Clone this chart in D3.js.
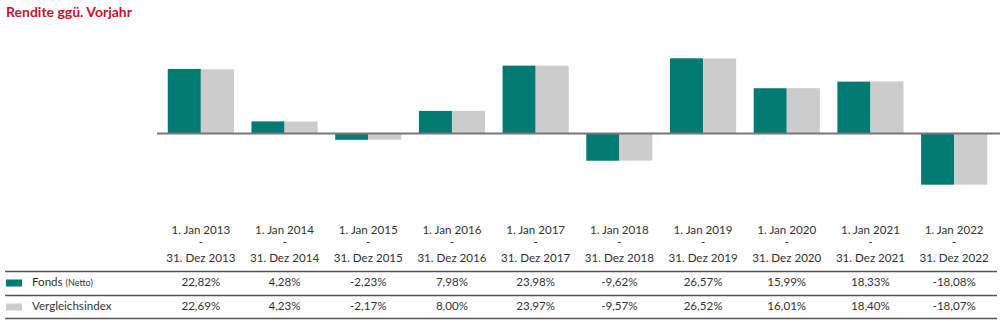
<!DOCTYPE html>
<html>
<head>
<meta charset="utf-8">
<script src="https://cdn.jsdelivr.net/npm/d3@7"></script>
<style>
  html, body { margin: 0; padding: 0; background: #fff; }
  svg { display: block; font-family: Lato, "Open Sans", sans-serif; }
</style>
</head>
<body>
<svg id="chart" width="1000" height="323"></svg>
<script>
const periodStart = ["1. Jan 2013","1. Jan 2014","1. Jan 2015","1. Jan 2016","1. Jan 2017","1. Jan 2018","1. Jan 2019","1. Jan 2020","1. Jan 2021","1. Jan 2022"];
const periodEnd = ["31. Dez 2013","31. Dez 2014","31. Dez 2015","31. Dez 2016","31. Dez 2017","31. Dez 2018","31. Dez 2019","31. Dez 2020","31. Dez 2021","31. Dez 2022"];
const fonds = [22.82, 4.28, -2.23, 7.98, 23.98, -9.62, 26.57, 15.99, 18.33, -18.08];
const vergleichsindex = [22.69, 4.23, -2.17, 8.00, 23.97, -9.57, 26.52, 16.01, 18.40, -18.07];
const seriesNames = ["Fonds", "Vergleichsindex"];

const fmt = v => v.toFixed(2).replace(".", ",") + "%";

const svg = d3.select("#chart");
const teal = "#007a72", grey = "#cccccc";

svg.append("text").attr("x", 6).attr("y", 17)
  .attr("fill", "#c8102e").attr("font-weight", 700).attr("font-size", 14)
  .text("Rendite ggü. Vorjahr");

const idx = d3.range(periodStart.length);
const x = d3.scaleBand().domain(idx).range([159, 996]).paddingInner(0.21).paddingOuter(0.105);
const x1 = d3.scaleBand().domain([0, 1]).range([0, x.bandwidth()]);
const y = d3.scaleLinear().domain([-20, 30]).range([133.5 + 20 * 2.83, 133.5 - 30 * 2.83]);

const groups = svg.append("g").selectAll("g").data(idx).join("g")
  .attr("transform", i => `translate(${x(i)},0)`);

[fonds, vergleichsindex].forEach((arr, s) => {
  groups.append("rect")
    .attr("x", x1(s))
    .attr("width", x1.bandwidth())
    .attr("y", i => y(Math.max(0, arr[i])))
    .attr("height", i => Math.abs(y(arr[i]) - y(0)))
    .attr("fill", s === 0 ? teal : grey);
});

svg.append("line").attr("x1", 157).attr("x2", 1000)
  .attr("y1", y(0)).attr("y2", y(0))
  .attr("stroke", "#777").attr("stroke-width", 2);

// period labels
const fs = 11.6;
const lab = svg.append("g").attr("font-size", fs).attr("fill", "#333").attr("text-anchor", "middle");
idx.forEach(i => {
  const cx = x(i) + x.bandwidth() / 2;
  lab.append("text").attr("x", cx).attr("y", 234).text(periodStart[i]);
  lab.append("text").attr("x", cx).attr("y", 246).text("-");
  lab.append("text").attr("x", cx).attr("y", 262).text(periodEnd[i]);
});

// table
const tl = [271.5, 295.5, 318.5];
tl.forEach(ly => svg.append("line").attr("x1", 5).attr("x2", 997)
  .attr("y1", ly).attr("y2", ly).attr("stroke", "#555").attr("stroke-width", 1.3));

svg.append("rect").attr("x", 6).attr("y", 279.5).attr("width", 16).attr("height", 7).attr("fill", teal);
svg.append("rect").attr("x", 6).attr("y", 303.5).attr("width", 16).attr("height", 7).attr("fill", grey);

const t1 = svg.append("text").attr("x", 32).attr("y", 286).attr("font-size", fs).attr("fill", "#333");
t1.append("tspan").text(seriesNames[0] + " ");
t1.append("tspan").attr("font-size", 9).text("(Netto)");
svg.append("text").attr("x", 32).attr("y", 310).attr("font-size", fs).attr("fill", "#333").text(seriesNames[1]);

const vals = svg.append("g").attr("font-size", fs).attr("fill", "#333").attr("text-anchor", "middle");
[fonds, vergleichsindex].forEach((arr, s) => {
  idx.forEach(i => {
    vals.append("text").attr("x", x(i) + x.bandwidth() / 2).attr("y", s === 0 ? 286 : 310).text(fmt(arr[i]));
  });
});
</script>
</body>
</html>
